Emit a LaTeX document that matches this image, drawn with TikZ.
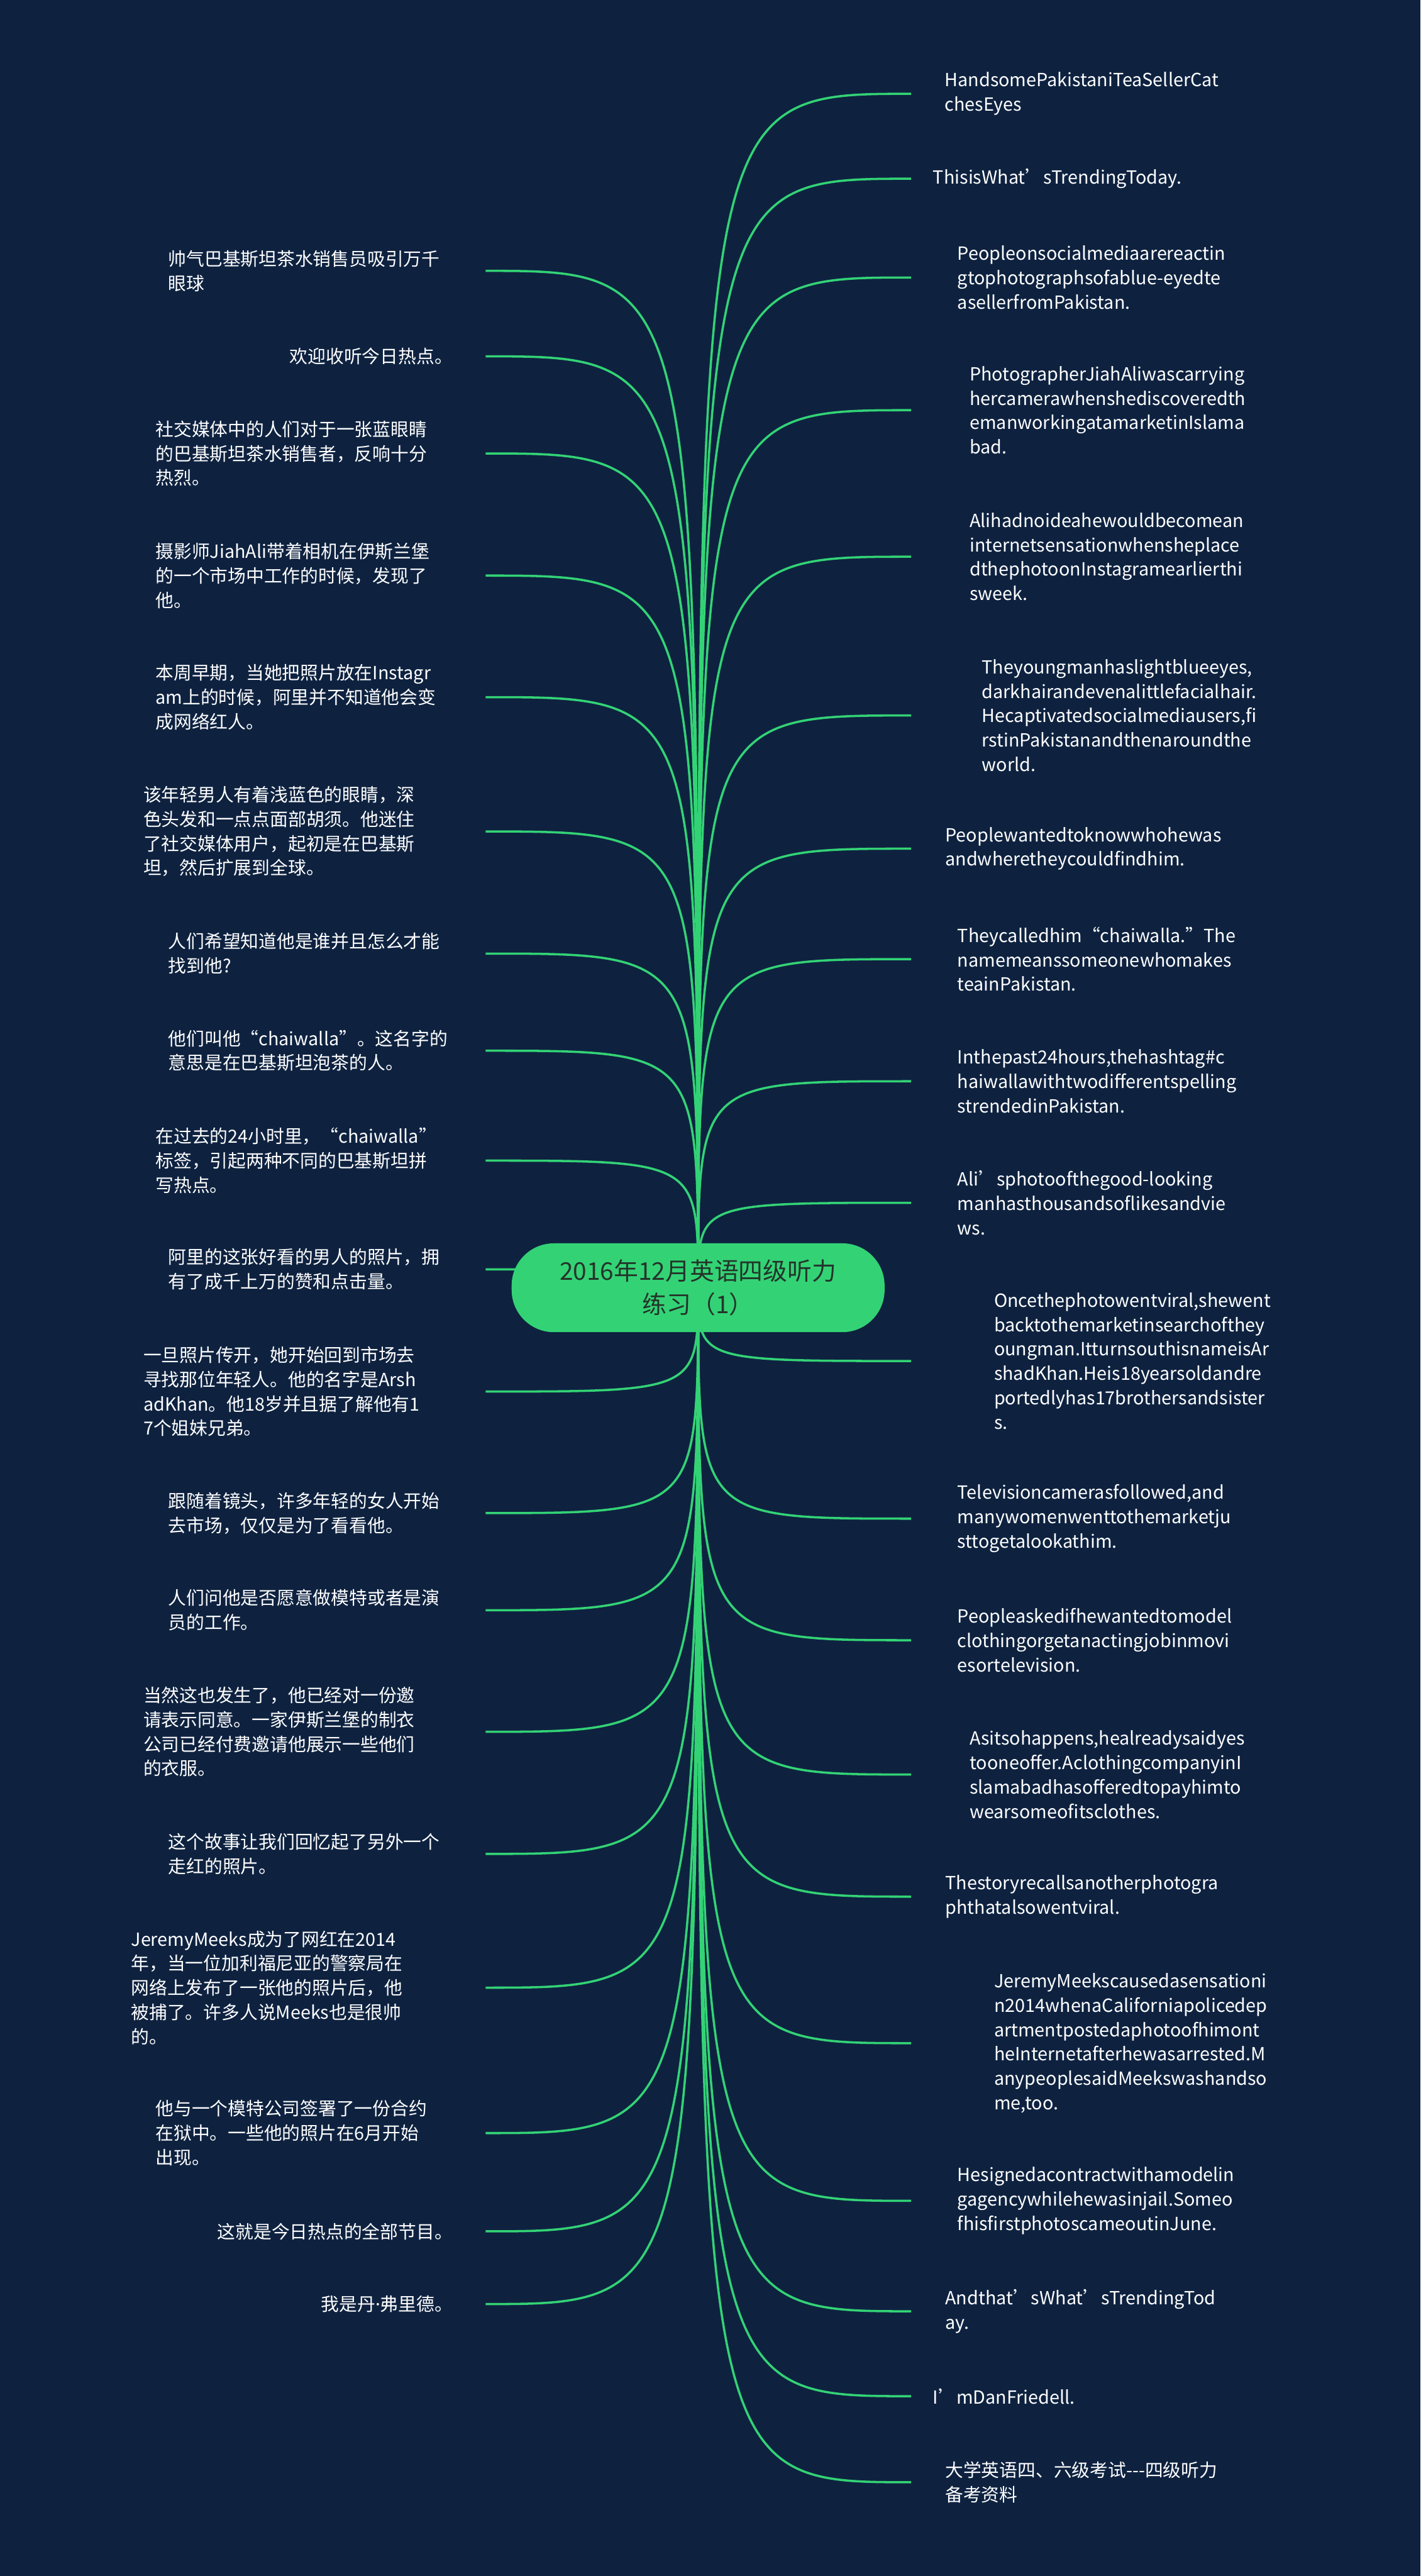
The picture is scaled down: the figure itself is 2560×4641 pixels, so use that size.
\documentclass[tikz,border=0pt]{standalone}
\usepackage{fontspec}
\setmainfont{Noto Sans CJK SC}
\newfontfamily\westfont{Noto Sans}
\usetikzlibrary{backgrounds}

\definecolor{bgnavy}{RGB}{14,34,64}
\definecolor{mindgreen}{RGB}{51,211,117}
\definecolor{rootink}{RGB}{36,52,42}

\tikzset{
  leaf/.style={inner sep=0pt, text=white, align=left, font=\fontsize{16.3pt}{22pt}\selectfont},
  leafL/.style={leaf, anchor=west},
  leafR/.style={leaf, anchor=east, align=right},
  root/.style={shape=rectangle, rounded corners=38pt, fill=mindgreen, text=rootink, minimum width=336pt, minimum height=80pt, align=center, font=\fontsize{22pt}{30pt}\selectfont},
  branch/.style={draw=mindgreen, line width=2pt}
}

\begin{document}
\begin{tikzpicture}[x=0.5pt, y=-0.5pt]
\useasboundingbox (0,0) rectangle (2560,4641);

% Root
\node [root] at (1258,2320) (root) {2016年12月英语四级听力\\练习（1）};

% Where the branches end
\coordinate (lend) at (875,0);
\coordinate (rend) at (1642,0);

% Left side
\node [leafL] at (303,488)  (l1)  {帅气巴基斯坦茶水销售员吸引万千\\眼球};
\node [leafR] at (816,642)  (l2)  {欢迎收听今日热点。};
\node [leafL] at (280,817)  (l3)  {社交媒体中的人们对于一张蓝眼睛\\的巴基斯坦茶水销售者，反响十分\\热烈。};
\node [leafL] at (280,1037) (l4)  {摄影师JiahAli带着相机在伊斯兰堡\\的一个市场中工作的时候，发现了\\他。};
\node [leafL] at (280,1256) (l5)  {本周早期，当她把照片放在Instagr\\am上的时候，阿里并不知道他会变\\成网络红人。};
\node [leafL] at (258,1498) (l6)  {该年轻男人有着浅蓝色的眼睛，深\\色头发和一点点面部胡须。他迷住\\了社交媒体用户，起初是在巴基斯\\坦，然后扩展到全球。};
\node [leafL] at (303,1718) (l7)  {人们希望知道他是谁并且怎么才能\\找到他?};
\node [leafL] at (303,1893) (l8)  {他们叫他“chaiwalla”。这名字的\\意思是在巴基斯坦泡茶的人。};
\node [leafL] at (280,2091) (l9)  {在过去的24小时里，“chaiwalla”\\标签，引起两种不同的巴基斯坦拼\\写热点。};
\node [leafL] at (303,2287) (l10) {阿里的这张好看的男人的照片，拥\\有了成千上万的赞和点击量。};
\node [leafL] at (258,2507) (l11) {一旦照片传开，她开始回到市场去\\寻找那位年轻人。他的名字是Arsh\\adKhan。他18岁并且据了解他有1\\7个姐妹兄弟。};
\node [leafL] at (303,2726) (l12) {跟随着镜头，许多年轻的女人开始\\去市场，仅仅是为了看看他。};
\node [leafL] at (303,2901) (l13) {人们问他是否愿意做模特或者是演\\员的工作。};
\node [leafL] at (258,3120) (l14) {当然这也发生了，他已经对一份邀\\请表示同意。一家伊斯兰堡的制衣\\公司已经付费邀请他展示一些他们\\的衣服。};
\node [leafL] at (303,3340) (l15) {这个故事让我们回忆起了另外一个\\走红的照片。};
\node [leafL] at (236,3581) (l16) {JeremyMeeks成为了网红在2014\\年，当一位加利福尼亚的警察局在\\网络上发布了一张他的照片后，他\\被捕了。许多人说Meeks也是很帅\\的。};
\node [leafL] at (280,3843) (l17) {他与一个模特公司签署了一份合约\\在狱中。一些他的照片在6月开始\\出现。};
\node [leafR] at (816,4020) (l18) {这就是今日热点的全部节目。};
\node [leafR] at (816,4151) (l19) {我是丹{\westfont ·}弗里德。};

% Right side
\node [leafL] at (1702,169)  (r1)  {HandsomePakistaniTeaSellerCat\\chesEyes};
\node [leafL] at (1681,322)  (r2)  {ThisisWhat’sTrendingToday.};
\node [leafL] at (1725,500)  (r3)  {Peopleonsocialmediaarereactin\\gtophotographsofablue-eyedte\\asellerfromPakistan.};
\node [leafL] at (1747,739)  (r4)  {PhotographerJiahAliwascarrying\\hercamerawhenshediscoveredth\\emanworkingatamarketinIslama\\bad.};
\node [leafL] at (1747,1003) (r5)  {Alihadnoideahewouldbecomean\\internetsensationwhensheplace\\dthephotoonInstagramearlierthi\\sweek.};
\node [leafL] at (1769,1289) (r6)  {Theyoungmanhaslightblueeyes,\\darkhairandevenalittlefacialhair.\\Hecaptivatedsocialmediausers,fi\\rstinPakistanandthenaroundthe\\world.};
\node [leafL] at (1703,1529) (r7)  {Peoplewantedtoknowwhohewas\\andwheretheycouldfindhim.};
\node [leafL] at (1725,1728) (r8)  {Theycalledhim“chaiwalla.”The\\namemeanssomeonewhomakes\\teainPakistan.};
\node [leafL] at (1725,1948) (r9)  {Inthepast24hours,thehashtag\#c\\haiwallawithtwodifferentspelling\\strendedinPakistan.};
\node [leafL] at (1725,2167) (r10) {Ali’sphotoofthegood-looking\\manhasthousandsoflikesandvie\\ws.};
\node [leafL] at (1791,2452) (r11) {Oncethephotowentviral,shewent\\backtothemarketinsearchofthey\\oungman.ItturnsouthisnameisAr\\shadKhan.Heis18yearsoldandre\\portedlyhas17brothersandsister\\s.};
\node [leafL] at (1725,2736) (r12) {Televisioncamerasfollowed,and\\manywomenwenttothemarketju\\sttogetalookathim.};
\node [leafL] at (1725,2955) (r13) {Peopleaskedifhewantedtomodel\\clothingorgetanactingjobinmovi\\esortelevision.};
\node [leafL] at (1747,3197) (r14) {Asitsohappens,healreadysaidyes\\tooneoffer.AclothingcompanyinI\\slamabadhasofferedtopayhimto\\wearsomeofitsclothes.};
\node [leafL] at (1703,3417) (r15) {Thestoryrecallsanotherphotogra\\phthatalsowentviral.};
\node [leafL] at (1791,3681) (r16) {JeremyMeekscausedasensationi\\n2014whenaCaliforniapolicedep\\artmentpostedaphotoofhimont\\heInternetafterhewasarrested.M\\anypeoplesaidMeekswashandso\\me,too.};
\node [leafL] at (1725,3965) (r17) {Hesignedacontractwithamodelin\\gagencywhilehewasinjail.Someo\\fhisfirstphotoscameoutinJune.};
\node [leafL] at (1703,4164) (r18) {Andthat’sWhat’sTrendingTod\\ay.};
\node [leafL] at (1681,4317) (r19) {I’mDanFriedell.};
\node [leafL] at (1703,4472) (r20) {大学英语四、六级考试-{}-{}-四级听力\\备考资料};

\begin{scope}[on background layer]
\fill [bgnavy] (0,0) rectangle (2560,4641);

% Branches to the left
\draw [branch] (root.center) .. controls (root.center |- l1)  .. (lend |- l1);
\draw [branch] (root.center) .. controls (root.center |- l2)  .. (lend |- l2);
\draw [branch] (root.center) .. controls (root.center |- l3)  .. (lend |- l3);
\draw [branch] (root.center) .. controls (root.center |- l4)  .. (lend |- l4);
\draw [branch] (root.center) .. controls (root.center |- l5)  .. (lend |- l5);
\draw [branch] (root.center) .. controls (root.center |- l6)  .. (lend |- l6);
\draw [branch] (root.center) .. controls (root.center |- l7)  .. (lend |- l7);
\draw [branch] (root.center) .. controls (root.center |- l8)  .. (lend |- l8);
\draw [branch] (root.center) .. controls (root.center |- l9)  .. (lend |- l9);
\draw [branch] (root.center) .. controls (root.center |- l10) .. (lend |- l10);
\draw [branch] (root.center) .. controls (root.center |- l11) .. (lend |- l11);
\draw [branch] (root.center) .. controls (root.center |- l12) .. (lend |- l12);
\draw [branch] (root.center) .. controls (root.center |- l13) .. (lend |- l13);
\draw [branch] (root.center) .. controls (root.center |- l14) .. (lend |- l14);
\draw [branch] (root.center) .. controls (root.center |- l15) .. (lend |- l15);
\draw [branch] (root.center) .. controls (root.center |- l16) .. (lend |- l16);
\draw [branch] (root.center) .. controls (root.center |- l17) .. (lend |- l17);
\draw [branch] (root.center) .. controls (root.center |- l18) .. (lend |- l18);
\draw [branch] (root.center) .. controls (root.center |- l19) .. (lend |- l19);

% Branches to the right
\draw [branch] (root.center) .. controls (root.center |- r1)  .. (rend |- r1);
\draw [branch] (root.center) .. controls (root.center |- r2)  .. (rend |- r2);
\draw [branch] (root.center) .. controls (root.center |- r3)  .. (rend |- r3);
\draw [branch] (root.center) .. controls (root.center |- r4)  .. (rend |- r4);
\draw [branch] (root.center) .. controls (root.center |- r5)  .. (rend |- r5);
\draw [branch] (root.center) .. controls (root.center |- r6)  .. (rend |- r6);
\draw [branch] (root.center) .. controls (root.center |- r7)  .. (rend |- r7);
\draw [branch] (root.center) .. controls (root.center |- r8)  .. (rend |- r8);
\draw [branch] (root.center) .. controls (root.center |- r9)  .. (rend |- r9);
\draw [branch] (root.center) .. controls (root.center |- r10) .. (rend |- r10);
\draw [branch] (root.center) .. controls (root.center |- r11) .. (rend |- r11);
\draw [branch] (root.center) .. controls (root.center |- r12) .. (rend |- r12);
\draw [branch] (root.center) .. controls (root.center |- r13) .. (rend |- r13);
\draw [branch] (root.center) .. controls (root.center |- r14) .. (rend |- r14);
\draw [branch] (root.center) .. controls (root.center |- r15) .. (rend |- r15);
\draw [branch] (root.center) .. controls (root.center |- r16) .. (rend |- r16);
\draw [branch] (root.center) .. controls (root.center |- r17) .. (rend |- r17);
\draw [branch] (root.center) .. controls (root.center |- r18) .. (rend |- r18);
\draw [branch] (root.center) .. controls (root.center |- r19) .. (rend |- r19);
\draw [branch] (root.center) .. controls (root.center |- r20) .. (rend |- r20);
\end{scope}

\end{tikzpicture}
\end{document}
